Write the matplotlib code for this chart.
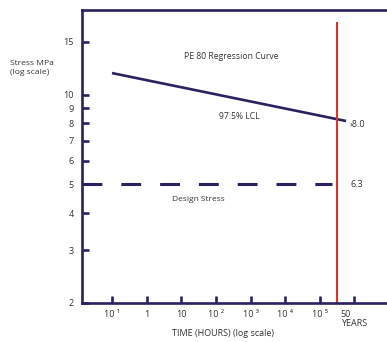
import matplotlib
matplotlib.use("Agg")
import matplotlib.pyplot as plt
import numpy as np

plt.rcParams['font.family'] = ['Open Sans', 'DejaVu Sans']

# ---- data ----
y_ticks = [2, 3, 4, 5, 6, 7, 8, 9, 10, 15]
y_tick_labels = ["2", "3", "4", "5", "6", "7", "8", "9", "10", "15"]
x_ticks = [0.1, 1, 10, 100, 1e3, 1e4, 1e5, 9.5e5]
x_tick_labels = ["10 ¹", "1", "10", "10 ²", "10 ³", "10 ⁴", "10 ⁵", "50\nYEARS"]
regression_hours = [0.1, 5.6e5]
regression_stress = [11.8, 8.15]
design_hours = [10 ** -1.865, 2.2e5]
design_stress = [5.0, 5.0]
red_line_hours = 3.1e5
red_line_range = [2.0, 17.3]
xlim = (10 ** -1.865, 10 ** 6.93)
ylim = (2.0, 19.2)

navy = "#2b2160"
txt = "#333333"

fig = plt.figure(figsize=(3.87, 3.42), dpi=100)
ax = fig.add_axes([82 / 387, 1 - 303 / 342, 1 - 82 / 387, (303 - 10) / 342])
ax.set_xscale('log')
ax.set_yscale('log')
ax.set_xlim(*xlim)
ax.set_ylim(*ylim)

for s in ['left', 'top', 'bottom']:
    ax.spines[s].set_color(navy)
    ax.spines[s].set_linewidth(1.9)
ax.spines['right'].set_visible(False)

ax.minorticks_off()
ax.set_yticks(y_ticks)
ax.set_yticklabels(y_tick_labels)
ax.set_xticks(x_ticks)
ax.set_xticklabels(x_tick_labels)
ax.minorticks_off()
ax.tick_params(axis='both', direction='in', color=navy, width=1.9, length=5,
               labelsize=6.5, labelcolor=txt)
ax.tick_params(axis='y', pad=6)
ax.tick_params(axis='x', pad=5)
ax.get_xticklabels()[-1].set_multialignment('left')
ax.get_xticklabels()[-1].set_linespacing(1.0)

# regression curve
ax.plot(regression_hours, regression_stress, color=navy, lw=1.9, solid_capstyle='butt')
# design stress dashed
ax.plot(design_hours, design_stress, color=navy, lw=2.2, dashes=(6.5, 6.2))
# red 50-year line
ax.plot([red_line_hours, red_line_hours], red_line_range, color="#e0302a", lw=1.5,
        clip_on=False)

ax.text(10 ** 2.43, 13.4, "PE 80 Regression Curve", fontsize=6.2, color=txt,
        ha='center', va='center')
ax.text(10 ** 2.66, 8.45, "97.5% LCL", fontsize=6.2, color=txt,
        ha='center', va='center')
ax.text(10 ** 1.50, 4.45, "Design Stress", fontsize=6.0, color=txt,
        ha='center', va='center')
ax.text(10 ** 5.85, 7.95, "›8.0", fontsize=6.5, color=txt, ha='left', va='center')
ax.text(10 ** 5.88, 4.98, "6.3", fontsize=6.5, color=txt, ha='left', va='center')

fig.text(10 / 387, 1 - 68 / 342, "Stress MPa\n(log scale)", fontsize=6.1, color=txt,
         ha='left', va='center', linespacing=1.5)
fig.text(223 / 387, 1 - 334 / 342, "TIME (HOURS) (log scale)", fontsize=6.5, color=txt,
         ha='center', va='center')

fig.savefig("out.png", dpi=100)
